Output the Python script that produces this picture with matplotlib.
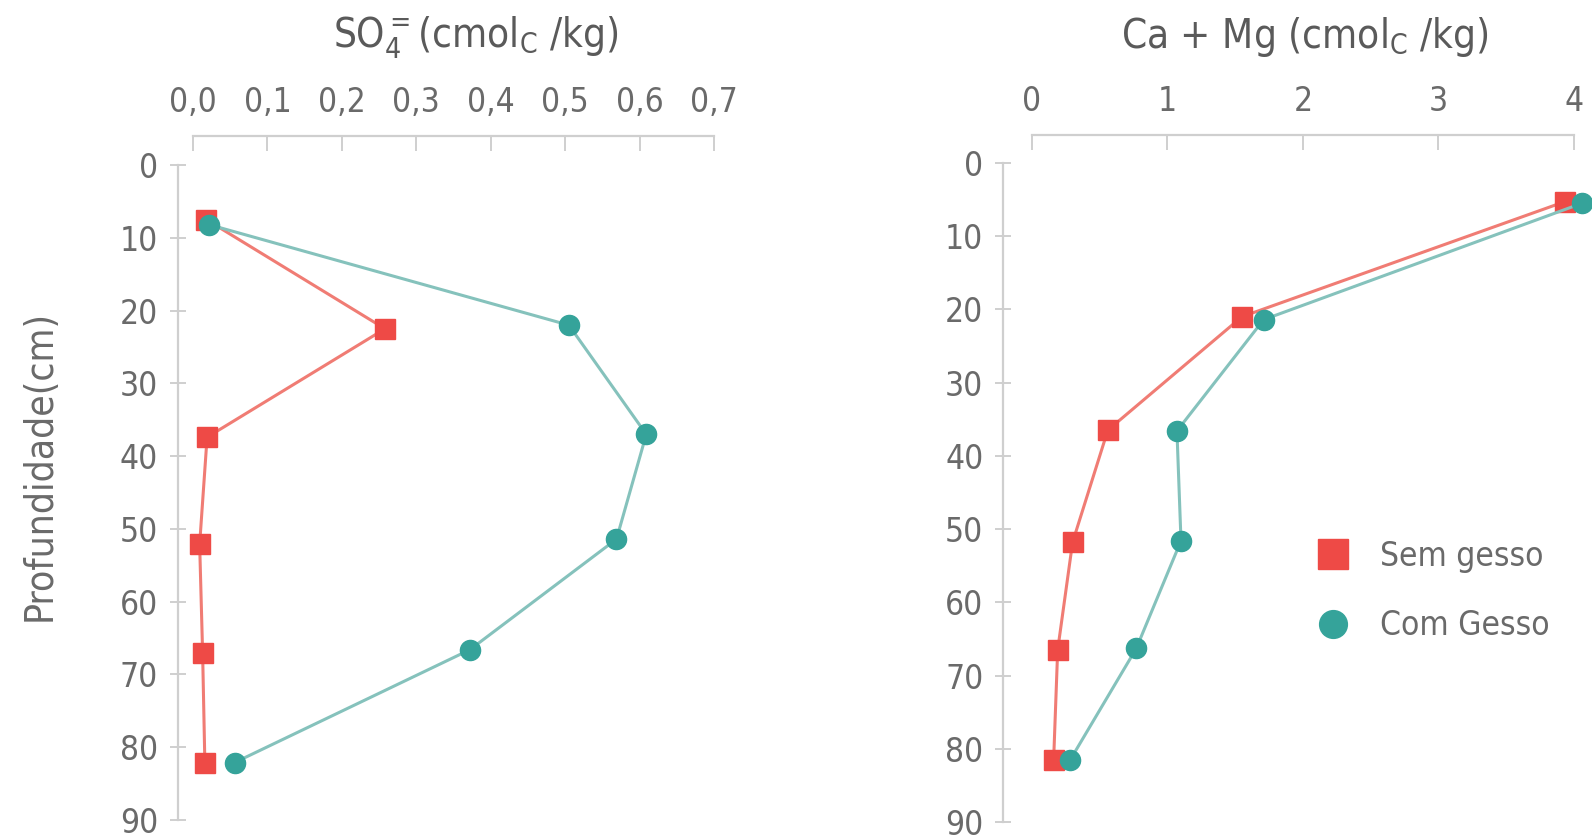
# -*- coding: utf-8 -*-
"""
Perfis de SO4 e Ca + Mg no solo, com e sem gesso
"""

import matplotlib
matplotlib.use('Agg')
import matplotlib.pyplot as plt
from matplotlib import font_manager
from matplotlib.lines import Line2D


#%% Dados

# SO4 (cmolc/kg) x profundidade (cm)
depth_sem_so4 = [7.5, 22.5, 37.4, 52.1, 67.1, 82.1]
so4_sem = [0.018, 0.258, 0.019, 0.009, 0.013, 0.016]
depth_com_so4 = [8.2, 22.0, 37.0, 51.4, 66.6, 82.1]
so4_com = [0.022, 0.505, 0.609, 0.569, 0.372, 0.056]

# Ca + Mg (cmolc/kg) x profundidade (cm)
depth_sem_camg = [5.3, 21.0, 36.5, 51.8, 66.5, 81.6]
camg_sem = [3.93, 1.55, 0.56, 0.30, 0.19, 0.16]
depth_com_camg = [5.5, 21.4, 36.6, 51.6, 66.3, 81.6]
camg_com = [4.06, 1.71, 1.07, 1.10, 0.77, 0.28]

so4_ticks = [0.0, 0.1, 0.2, 0.3, 0.4, 0.5, 0.6, 0.7]
so4_labels = ['0,0', '0,1', '0,2', '0,3', '0,4', '0,5', '0,6', '0,7']
camg_ticks = [0, 1, 2, 3, 4]
depth_ticks = [0, 10, 20, 30, 40, 50, 60, 70, 80, 90]

series_labels = ['Sem gesso', 'Com Gesso']


#%% Estilo

# fonte estreita se houver uma instalada, senao Liberation Sans
narrow = None
for f in font_manager.fontManager.ttflist:
    if f.style != 'normal' or f.weight not in (400, 'normal', 'regular'):
        continue
    if 'Narrow' in f.name or 'Condensed' in f.name or \
            f.stretch in ('condensed', 'semi-condensed', 500 - 200):
        narrow = f
        break

if narrow is not None:
    font = [narrow.name, 'Liberation Sans', 'DejaVu Sans']
    plt.rcParams['font.stretch'] = narrow.stretch
    TICK_FS, TITLE_FS, LEG_FS = 24, 29, 24
else:
    font = ['Liberation Sans', 'DejaVu Sans']
    TICK_FS, TITLE_FS, LEG_FS = 22, 27, 22

plt.rcParams['font.family'] = font
plt.rcParams['mathtext.fontset'] = 'custom'
plt.rcParams['mathtext.rm'] = font[0]
plt.rcParams['mathtext.it'] = font[0]

RED_MK = '#ee4a46'
RED_LN = '#f07c74'
GRN_MK = '#35a39a'
GRN_LN = '#85c2bc'
AXIS_C = '#cfcfcf'
TEXT_C = '#6a6a6a'


def style_axis(ax, top_off, left_off):
    """Eixo x no topo e eixo y descolado, como na figura original"""
    for side in ['right', 'bottom']:
        ax.spines[side].set_visible(False)
    for side in ['top', 'left']:
        ax.spines[side].set_color(AXIS_C)
        ax.spines[side].set_linewidth(1.6)
    ax.spines['top'].set_position(('outward', top_off))
    ax.spines['left'].set_position(('outward', left_off))
    ax.xaxis.set_ticks_position('top')
    ax.xaxis.set_label_position('top')
    ax.tick_params(axis='x', direction='in', length=11, width=1.4,
                   color=AXIS_C, labelsize=TICK_FS, labelcolor=TEXT_C, pad=12)
    ax.tick_params(axis='y', direction='inout', length=12, width=1.4,
                   color=AXIS_C, labelsize=TICK_FS, labelcolor=TEXT_C, pad=8)
    ax.set_ylim(90, 0)
    ax.set_yticks(depth_ticks)


def plot_profile(ax, x_sem, y_sem, x_com, y_com):
    ax.plot(x_sem, y_sem, color=RED_LN, lw=2.2, zorder=2, clip_on=False)
    ax.plot(x_sem, y_sem, 's', color=RED_MK, ms=15, zorder=3, clip_on=False)
    ax.plot(x_com, y_com, color=GRN_LN, lw=2.2, zorder=4, clip_on=False)
    ax.plot(x_com, y_com, 'o', color=GRN_MK, ms=14.5, zorder=5, clip_on=False)


#%% Figura

fig = plt.figure(figsize=(15.92, 8.39), dpi=100)
fig.patch.set_facecolor('white')

ax1 = fig.add_axes([0.1212, 0.0226, 0.3273, 0.7807])
ax2 = fig.add_axes([0.6482, 0.0203, 0.3405, 0.7855])

# SO4
plot_profile(ax1, so4_sem, depth_sem_so4, so4_com, depth_com_so4)
style_axis(ax1, 21, 11)
ax1.set_xlim(0, 0.7)
ax1.set_xticks(so4_ticks)
ax1.set_xticklabels(so4_labels)
ax1.set_ylabel('Profundidade(cm)', fontsize=TITLE_FS - 1, color=TEXT_C,
               labelpad=44)
ax1.yaxis.label.set_y(0.542)

# Ca + Mg
plot_profile(ax2, camg_sem, depth_sem_camg, camg_com, depth_com_camg)
style_axis(ax2, 20, 21)
ax2.set_xlim(0, 4)
ax2.set_xticks(camg_ticks)

fig.text(0.299, 0.956, r'SO$^{=}_{4}$(cmol$_\mathrm{C}$ /kg)', fontsize=TITLE_FS,
         color='#5a5a5a', ha='center', va='center')
fig.text(0.82, 0.956, r'Ca + Mg (cmol$_\mathrm{C}$ /kg)', fontsize=TITLE_FS,
         color='#5a5a5a', ha='center', va='center')

handles = [Line2D([], [], ls='none', marker='s', ms=21, color=RED_MK),
           Line2D([], [], ls='none', marker='o', ms=20, color=GRN_MK)]
leg = fig.legend(handles, series_labels, loc='center left',
                 bbox_to_anchor=(0.827, 0.2956), frameon=False, fontsize=LEG_FS,
                 handlelength=1.0, handletextpad=0.9, labelspacing=1.1,
                 borderpad=0, borderaxespad=0)
for t in leg.get_texts():
    t.set_color(TEXT_C)

fig.savefig('out.png', dpi=100, facecolor='white')
